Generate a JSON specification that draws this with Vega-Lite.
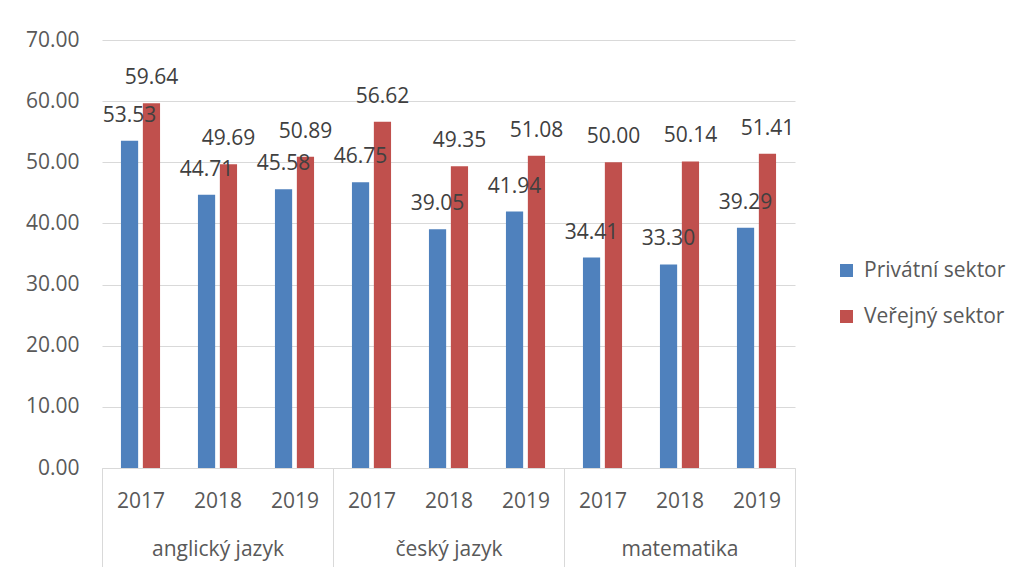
{
  "$schema": "https://vega.github.io/schema/vega-lite/v6.json",
  "width": 693,
  "height": 428,
  "autosize": {"type": "none"},
  "padding": {"left": 102, "top": 40, "right": 216, "bottom": 99},
  "background": "white",
  "config": {"view": {"stroke": null}, "font": "Open Sans"},
  "data": {
    "values": [
      {"subject": "anglický jazyk", "year": "2017", "category": "anglický jazyk|2017", "series": "Privátní sektor", "value": 53.53},
      {"subject": "anglický jazyk", "year": "2017", "category": "anglický jazyk|2017", "series": "Veřejný sektor", "value": 59.64},
      {"subject": "anglický jazyk", "year": "2018", "category": "anglický jazyk|2018", "series": "Privátní sektor", "value": 44.71},
      {"subject": "anglický jazyk", "year": "2018", "category": "anglický jazyk|2018", "series": "Veřejný sektor", "value": 49.69},
      {"subject": "anglický jazyk", "year": "2019", "category": "anglický jazyk|2019", "series": "Privátní sektor", "value": 45.58},
      {"subject": "anglický jazyk", "year": "2019", "category": "anglický jazyk|2019", "series": "Veřejný sektor", "value": 50.89},
      {"subject": "český jazyk", "year": "2017", "category": "český jazyk|2017", "series": "Privátní sektor", "value": 46.75},
      {"subject": "český jazyk", "year": "2017", "category": "český jazyk|2017", "series": "Veřejný sektor", "value": 56.62},
      {"subject": "český jazyk", "year": "2018", "category": "český jazyk|2018", "series": "Privátní sektor", "value": 39.05},
      {"subject": "český jazyk", "year": "2018", "category": "český jazyk|2018", "series": "Veřejný sektor", "value": 49.35},
      {"subject": "český jazyk", "year": "2019", "category": "český jazyk|2019", "series": "Privátní sektor", "value": 41.94},
      {"subject": "český jazyk", "year": "2019", "category": "český jazyk|2019", "series": "Veřejný sektor", "value": 51.08},
      {"subject": "matematika", "year": "2017", "category": "matematika|2017", "series": "Privátní sektor", "value": 34.41},
      {"subject": "matematika", "year": "2017", "category": "matematika|2017", "series": "Veřejný sektor", "value": 50.00},
      {"subject": "matematika", "year": "2018", "category": "matematika|2018", "series": "Privátní sektor", "value": 33.30},
      {"subject": "matematika", "year": "2018", "category": "matematika|2018", "series": "Veřejný sektor", "value": 50.14},
      {"subject": "matematika", "year": "2019", "category": "matematika|2019", "series": "Privátní sektor", "value": 39.29},
      {"subject": "matematika", "year": "2019", "category": "matematika|2019", "series": "Veřejný sektor", "value": 51.41}
    ]
  },
  "encoding": {
    "x": {
      "field": "category",
      "type": "nominal",
      "sort": ["anglický jazyk|2017", "anglický jazyk|2018", "anglický jazyk|2019", "český jazyk|2017", "český jazyk|2018", "český jazyk|2019", "matematika|2017", "matematika|2018", "matematika|2019"],
      "scale": {"paddingInner": 0, "paddingOuter": 0},
      "axis": {
        "title": null,
        "domain": true,
        "domainColor": "#D9D9D9",
        "domainWidth": 1,
        "ticks": true,
        "tickBand": "extent",
        "tickSize": 99,
        "tickColor": "#D9D9D9",
        "tickWidth": 1,
        "tickOpacity": {"condition": {"test": "datum.extra || slice(datum.value, -4) == '2019'", "value": 1}, "value": 0},
        "labelExpr": "datum.label ? (slice(datum.label, -4) == '2018' ? [slice(datum.label, -4), slice(datum.label, 0, -5)] : slice(datum.label, -4)) : ''",
        "labelAngle": 0,
        "labelPadding": -77,
        "labelFontSize": 21,
        "labelColor": "#595959",
        "labelLineHeight": 48,
        "labelOverlap": false,
        "labelBound": false,
        "labelLimit": 300
      }
    },
    "xOffset": {
      "field": "series",
      "type": "nominal",
      "sort": ["Privátní sektor", "Veřejný sektor"],
      "scale": {"paddingInner": 0.215, "paddingOuter": 0.865}
    },
    "y": {
      "field": "value",
      "type": "quantitative",
      "scale": {"domain": [0, 70], "nice": false},
      "axis": {
        "title": null,
        "values": [0, 10, 20, 30, 40, 50, 60, 70],
        "format": ".2f",
        "domain": false,
        "ticks": false,
        "labelPadding": 23,
        "labelFontSize": 21,
        "labelColor": "#595959",
        "gridColor": "#D9D9D9",
        "gridWidth": 1
      }
    }
  },
  "layer": [
    {
      "mark": {"type": "bar"},
      "encoding": {
        "color": {
          "field": "series",
          "type": "nominal",
          "scale": {"domain": ["Privátní sektor", "Veřejný sektor"], "range": ["#4F81BD", "#C0504D"]},
          "legend": {
            "title": null,
            "orient": "none",
            "legendX": 734,
            "legendY": 220,
            "symbolType": "square",
            "symbolSize": 169,
            "symbolStrokeWidth": 0,
            "labelFontSize": 21,
            "labelColor": "#595959",
            "labelOffset": 7,
            "rowPadding": 24,
            "padding": 0,
            "symbolOffset": 0,
            "labelLimit": 300
          }
        }
      }
    },
    {
      "mark": {"type": "text", "dy": -25, "baseline": "middle", "fontSize": 21, "color": "#404040"},
      "encoding": {
        "text": {"field": "value", "type": "quantitative", "format": ".2f"}
      }
    }
  ]
}
